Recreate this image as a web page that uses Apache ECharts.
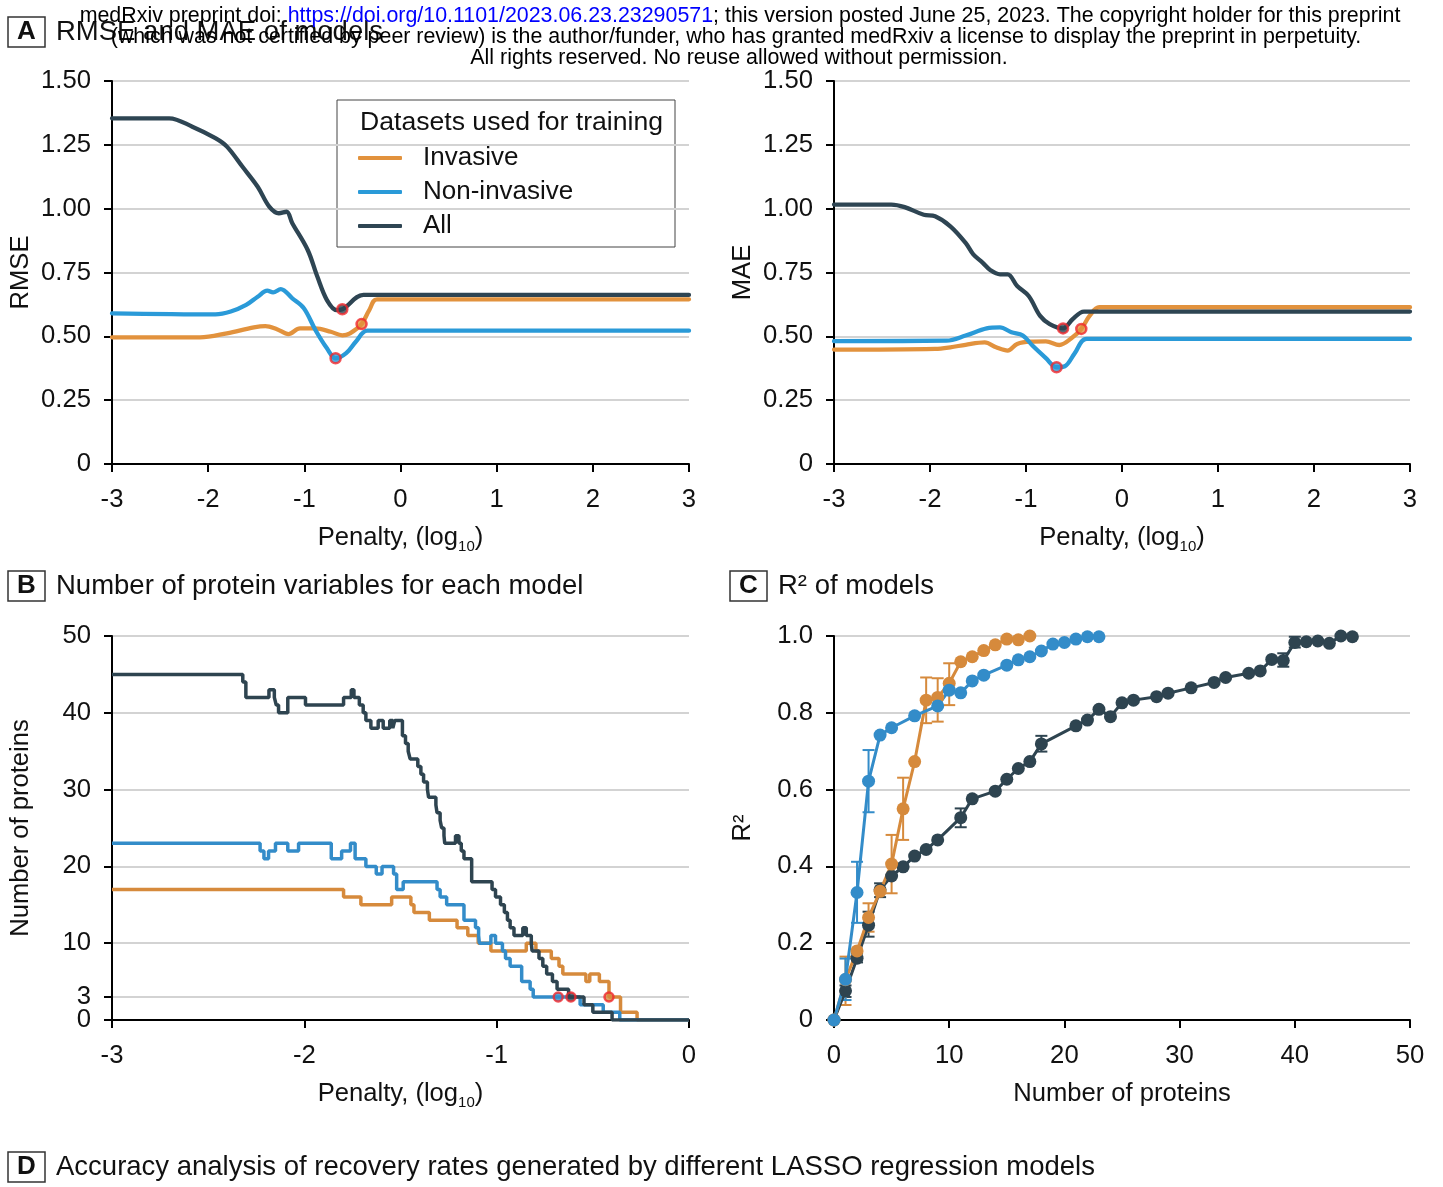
<!DOCTYPE html>
<html>
<head>
<meta charset="utf-8">
<script src="https://cdn.jsdelivr.net/npm/echarts@6/dist/echarts.min.js"></script>
<style>
html, body { margin: 0; padding: 0; background: #fff; }
#main { width: 1443px; height: 1187px; }
</style>
</head>
<body>
<div id="main"></div>
<script>
// ---- data ----
// A: RMSE vs penalty (log10)
var rmseInvasive = [[-3,0.496],[-2.085,0.496],[-1.805,0.512],[-1.525,0.535],[-1.405,0.54],[-1.285,0.528],[-1.165,0.509],[-1.045,0.531],[-0.885,0.531],[-0.725,0.518],[-0.605,0.504],[-0.525,0.512],[-0.405,0.548],[-0.325,0.603],[-0.245,0.645],[3,0.645]];
var rmseNonInvasive = [[-3,0.59],[-1.925,0.586],[-1.765,0.597],[-1.605,0.623],[-1.485,0.655],[-1.385,0.679],[-1.325,0.672],[-1.245,0.685],[-1.125,0.649],[-1.005,0.61],[-0.885,0.525],[-0.765,0.453],[-0.675,0.414],[-0.565,0.434],[-0.465,0.479],[-0.345,0.522],[3,0.522]];
var rmseAll = [[-3,1.354],[-2.405,1.354],[-2.165,1.321],[-1.925,1.276],[-1.805,1.243],[-1.645,1.165],[-1.485,1.086],[-1.365,1.008],[-1.265,0.982],[-1.185,0.988],[-1.125,0.943],[-0.965,0.838],[-0.865,0.734],[-0.765,0.642],[-0.665,0.603],[-0.605,0.606],[-0.385,0.662],[3,0.662]];
var rmseBest = [[-0.405,0.548],[-0.675,0.414],[-0.605,0.606]];

// A: MAE vs penalty (log10)
var maeInvasive = [[-3,0.448],[-1.947,0.451],[-1.788,0.457],[-1.629,0.467],[-1.43,0.476],[-1.311,0.457],[-1.191,0.444],[-1.092,0.47],[-0.953,0.479],[-0.793,0.48],[-0.654,0.466],[-0.515,0.496],[-0.424,0.529],[-0.336,0.581],[-0.237,0.614],[3,0.614]];
var maeNonInvasive = [[-3,0.481],[-1.828,0.483],[-1.629,0.503],[-1.41,0.531],[-1.271,0.535],[-1.152,0.516],[-1.032,0.503],[-0.933,0.464],[-0.793,0.415],[-0.682,0.379],[-0.595,0.383],[-0.495,0.432],[-0.368,0.49],[3,0.49]];
var maeAll = [[-3,1.016],[-2.403,1.016],[-2.264,1.006],[-2.065,0.976],[-1.947,0.97],[-1.788,0.931],[-1.629,0.866],[-1.549,0.821],[-1.45,0.788],[-1.37,0.759],[-1.271,0.743],[-1.191,0.743],[-1.092,0.697],[-0.972,0.658],[-0.853,0.58],[-0.753,0.548],[-0.614,0.531],[-0.515,0.567],[-0.396,0.597],[3,0.597]];
var maeBest = [[-0.424,0.529],[-0.682,0.379],[-0.614,0.531]];

// B: number of proteins vs penalty (value starts at x)
var nInvasive = [[-3,17],[-1.796,16],[-1.706,15],[-1.546,16],[-1.446,15],[-1.43,14],[-1.35,13],[-1.206,12],[-1.15,11],[-1.096,10],[-1.03,9],[-0.846,10],[-0.796,9],[-0.716,8],[-0.676,7],[-0.656,6],[-0.536,5],[-0.516,6],[-0.466,5],[-0.416,3],[-0.356,1],[-0.27,0],[0,0]];
var nNonInvasive = [[-3,23],[-2.23,22],[-2.21,21],[-2.186,22],[-2.15,23],[-2.086,22],[-2.03,23],[-1.86,21],[-1.806,22],[-1.76,23],[-1.736,21],[-1.68,20],[-1.626,19],[-1.596,20],[-1.536,19],[-1.52,17],[-1.486,18],[-1.31,17],[-1.294,16],[-1.26,15],[-1.17,13],[-1.11,12],[-1.094,11],[-1.09,10],[-1.03,11],[-1.006,10],[-0.97,9],[-0.954,8],[-0.93,7],[-0.87,5],[-0.826,4],[-0.81,3],[-0.566,2],[-0.446,1],[-0.36,0],[0,0]];
var nAll = [[-3,45],[-2.32,44],[-2.304,42],[-2.184,43],[-2.156,42],[-2.146,41],[-2.134,40],[-2.086,42],[-1.994,41],[-1.796,42],[-1.756,43],[-1.742,42],[-1.714,41],[-1.694,40],[-1.68,39],[-1.654,38],[-1.616,39],[-1.59,38],[-1.556,39],[-1.54,38],[-1.53,39],[-1.49,37],[-1.474,36],[-1.46,35],[-1.45,34],[-1.41,33],[-1.394,32],[-1.38,31],[-1.36,30],[-1.354,29],[-1.316,28],[-1.31,27],[-1.294,26],[-1.286,25],[-1.274,24],[-1.27,23],[-1.214,24],[-1.196,23],[-1.184,22],[-1.17,21],[-1.13,18],[-1.024,17],[-1.006,16],[-0.98,15],[-0.96,14],[-0.944,13],[-0.93,12],[-0.91,11],[-0.864,12],[-0.846,11],[-0.82,10],[-0.816,9],[-0.78,8],[-0.76,7],[-0.74,6],[-0.71,5],[-0.686,4],[-0.626,3],[-0.546,2],[-0.5,1],[-0.4,0],[0,0]];
var nBest = [[-0.416,3],[-0.68,3],[-0.614,3]];
var nTicks = [0, 10, 20, 30, 40, 50];
var nBestTick = [3];

// C: R2 vs number of proteins
var r2Invasive = [[0,0],[1,0.105],[2,0.18],[3,0.267],[4,0.335],[5,0.406],[6,0.55],[7,0.673],[8,0.833],[9,0.84],[10,0.877],[11,0.933],[12,0.946],[13,0.962],[14,0.977],[15,0.992],[16,0.99],[17,1.0]];
var r2NonInvasive = [[0,0],[1,0.106],[2,0.332],[3,0.622],[4,0.742],[5,0.761],[7,0.792],[9,0.818],[10,0.859],[11,0.852],[12,0.883],[13,0.898],[15,0.924],[16,0.938],[17,0.946],[18,0.961],[19,0.979],[20,0.983],[21,0.992],[22,0.998],[23,0.998]];
var r2All = [[0,0],[1,0.076],[2,0.161],[3,0.247],[4,0.339],[5,0.375],[6,0.399],[7,0.427],[8,0.444],[9,0.469],[11,0.527],[12,0.576],[14,0.596],[15,0.627],[16,0.655],[17,0.673],[18,0.719],[21,0.766],[22,0.781],[23,0.809],[24,0.79],[25,0.826],[26,0.833],[28,0.842],[29,0.851],[31,0.865],[33,0.879],[34,0.892],[36,0.903],[37,0.909],[38,0.939],[39,0.936],[40,0.983],[41,0.985],[42,0.987],[43,0.981],[44,1.0],[45,0.998]];
// error bars: [x, low, high]
var r2InvasiveErr = [[1,0.039,0.165],[3,0.23,0.304],[5,0.33,0.482],[6,0.469,0.631],[8,0.773,0.892],[9,0.777,0.89],[10,0.82,0.929]];
var r2NonInvasiveErr = [[1,0.052,0.16],[2,0.253,0.412],[3,0.541,0.703]];
var r2AllErr = [[1,0.06,0.09],[2,0.15,0.173],[3,0.217,0.282],[4,0.32,0.356],[11,0.502,0.551],[18,0.699,0.74],[39,0.92,0.955],[40,0.97,0.998]];

var FONT = '"Liberation Sans", Arial, Helvetica, sans-serif';
var colA = { inv: '#E2923D', non: '#2A9AD8', all: '#2E4553' };
var colB = { inv: '#D68A3C', non: '#338CC9', all: '#2E4450' };
var TICK_FS = 25.7;

var chart = echarts.init(document.getElementById('main'));

function penaltyName() {
    return '{a|Penalty, (log}{b|10}{a|)}';
}
var nameStyle = {
    fontFamily: FONT, color: '#111', fontSize: 25.6,
    rich: {
        a: { fontFamily: FONT, fontSize: 25.6, color: '#111', lineHeight: 30 },
        b: { fontFamily: FONT, fontSize: 15, color: '#111', lineHeight: 15, padding: [17, 0, 0, 0] }
    }
};

function xAx(gi, min, max, step, name, gap) {
    return {
        type: 'value', gridIndex: gi, min: min, max: max, interval: step,
        axisLine: { show: true, onZero: false, lineStyle: { color: '#000', width: 2 } },
        axisTick: { show: true, length: 8, lineStyle: { color: '#000', width: 2 } },
        axisLabel: { fontSize: TICK_FS, color: '#111', fontFamily: FONT, margin: 23 },
        splitLine: { show: false },
        name: name, nameLocation: 'middle', nameGap: gap, nameTextStyle: nameStyle
    };
}
function yAx(gi, min, max, step, fmt, name) {
    return {
        type: 'value', gridIndex: gi, min: min, max: max, interval: step, position: 'left',
        axisLine: { show: true, onZero: false, lineStyle: { color: '#000', width: 2 } },
        axisTick: { show: true, length: 8, lineStyle: { color: '#000', width: 2 } },
        axisLabel: { fontSize: TICK_FS, color: '#111', fontFamily: FONT, margin: 21, formatter: fmt,
            showMinLabel: true, showMaxLabel: true, hideOverlap: false },
        splitLine: { show: true, lineStyle: { color: '#d3d3d3', width: 2 } },
        name: name, nameLocation: 'middle', nameGap: 78, nameRotate: 90,
        nameTextStyle: { fontFamily: FONT, fontSize: 25.6, color: '#111' }
    };
}
function fmt2(v) { return v === 0 ? '0' : v.toFixed(2); }
function fmt1(v) { return v === 0 ? '0' : v.toFixed(1); }

function lineS(name, data, color, gi, opts) {
    var s = {
        type: 'line', name: name, data: data, xAxisIndex: gi, yAxisIndex: gi,
        showSymbol: false, symbol: 'none', color: color,
        lineStyle: { color: color, width: 4.3, cap: 'round', join: 'round' },
        animation: false
    };
    for (var k in opts) s[k] = opts[k];
    return s;
}
function bestS(data, colors, gi, size) {
    return {
        type: 'scatter', xAxisIndex: gi, yAxisIndex: gi, z: 5, symbolSize: size,
        data: data.map(function (d, i) {
            return { value: d, itemStyle: { color: colors[i], borderColor: '#F0282D', borderWidth: 2.5 } };
        }),
        animation: false
    };
}
function errS(data, color, gi) {
    return {
        type: 'custom', xAxisIndex: gi, yAxisIndex: gi, data: data, z: 1,
        encode: { x: 0, y: [1, 2] },
        renderItem: function (params, api) {
            var lo = api.coord([api.value(0), api.value(1)]);
            var hi = api.coord([api.value(0), api.value(2)]);
            var w = 6;
            var st = { stroke: color, lineWidth: 2 };
            return { type: 'group', children: [
                { type: 'line', shape: { x1: lo[0], y1: lo[1], x2: hi[0], y2: hi[1] }, style: st },
                { type: 'line', shape: { x1: lo[0] - w, y1: lo[1], x2: lo[0] + w, y2: lo[1] }, style: st },
                { type: 'line', shape: { x1: hi[0] - w, y1: hi[1], x2: hi[0] + w, y2: hi[1] }, style: st }
            ] };
        },
        animation: false
    };
}

function panelLabel(x, y, letter, title) {
    return { type: 'group', children: [
        { type: 'rect', shape: { x: x, y: y, width: 37, height: 30 }, style: { fill: '#fff', stroke: '#333', lineWidth: 1.5 } },
        { type: 'text', x: x + 18.5, y: y + 15, style: { text: letter, font: 'bold 26px ' + FONT, fill: '#111', align: 'center', verticalAlign: 'middle' } },
        { type: 'text', x: x + 48, y: y + 15, style: { text: title, font: '27.5px ' + FONT, fill: '#111', align: 'left', verticalAlign: 'middle' } }
    ] };
}

var headerStyle = { font: '21.4px ' + FONT, fill: '#000', align: 'center', verticalAlign: 'middle' };

// panel B: main left axis plus an overlaid axis carrying only the "3" tick
var yB = yAx(2, 0, 50, 10, null, 'Number of proteins');
yB.axisLabel.customValues = nTicks;
yB.axisTick.customValues = nTicks;
var yB3 = yAx(2, 0, 50, 10, null, '');
yB3.axisLine = { show: false, onZero: false };
yB3.splitLine = { show: false };
yB3.axisLabel.customValues = nBestTick;
yB3.axisTick.customValues = nBestTick;
yB3.offset = 0;

var option = {
    backgroundColor: '#fff',
    animation: false,
    textStyle: { fontFamily: FONT },
    grid: [
        { left: 112, top: 81, width: 577, height: 383 },
        { left: 834, top: 81, width: 576, height: 383 },
        { left: 112, top: 636, width: 577, height: 384 },
        { left: 834, top: 636, width: 576, height: 384 }
    ],
    xAxis: [
        xAx(0, -3, 3, 1, penaltyName(), 59),
        xAx(1, -3, 3, 1, penaltyName(), 59),
        xAx(2, -3, 0, 1, penaltyName(), 59),
        (function () {
            var a = xAx(3, 0, 50, 10, 'Number of proteins', 61);
            a.nameTextStyle = { fontFamily: FONT, fontSize: 25.6, color: '#111' };
            return a;
        })()
    ],
    yAxis: [
        yAx(0, 0, 1.5, 0.25, fmt2, 'RMSE'),
        yAx(1, 0, 1.5, 0.25, fmt2, 'MAE'),
        yB,
        yAx(3, 0, 1, 0.2, fmt1, 'R²'),
        yB3
    ],
    legend: {
        data: ['Invasive', 'Non-invasive', 'All'],
        left: 358, top: 145, orient: 'vertical', icon: 'roundRect',
        itemWidth: 44, itemHeight: 4, itemGap: 8, padding: 0, selectedMode: false,
        textStyle: { fontSize: 26, color: '#111', fontFamily: FONT, padding: [0, 0, 0, 16] }
    },
    graphic: [
        { type: 'text', x: 740, y: 16, style: {
            text: '{n|medRxiv preprint doi: }{l|https://doi.org/10.1101/2023.06.23.23290571}{n|; this version posted June 25, 2023. The copyright holder for this preprint}',
            align: 'center', verticalAlign: 'middle',
            rich: { n: { font: '21.4px ' + FONT, fill: '#000' }, l: { font: '21.4px ' + FONT, fill: '#0000FF' } }
        }, z: 10 },
        { type: 'text', x: 736, y: 37, style: Object.assign({ text: '(which was not certified by peer review) is the author/funder, who has granted medRxiv a license to display the preprint in perpetuity.' }, headerStyle), z: 10 },
        { type: 'text', x: 739, y: 58, style: Object.assign({ text: 'All rights reserved. No reuse allowed without permission.' }, headerStyle), z: 10 },
        panelLabel(8, 17, 'A', 'RMSE and MAE of models'),
        panelLabel(8, 571, 'B', 'Number of protein variables for each model'),
        panelLabel(730, 571, 'C', 'R² of models'),
        panelLabel(8, 1152, 'D', 'Accuracy analysis of recovery rates generated by different LASSO regression models'),
        { type: 'rect', shape: { x: 337, y: 100, width: 338, height: 147 }, style: { fill: '#fff', stroke: '#444', lineWidth: 1 }, z: 0 },
        { type: 'text', x: 360, y: 123, style: { text: 'Datasets used for training', font: '26.6px ' + FONT, fill: '#111', verticalAlign: 'middle' } }
    ],
    series: [
        // A: RMSE
        lineS('Invasive', rmseInvasive, colA.inv, 0, { smooth: 0.35 }),
        lineS('Non-invasive', rmseNonInvasive, colA.non, 0, { smooth: 0.35 }),
        lineS('All', rmseAll, colA.all, 0, { smooth: 0.35 }),
        bestS(rmseBest, [colA.inv, colA.non, colA.all], 0, 10),
        // A: MAE
        lineS('Invasive', maeInvasive, colA.inv, 1, { smooth: 0.35 }),
        lineS('Non-invasive', maeNonInvasive, colA.non, 1, { smooth: 0.35 }),
        lineS('All', maeAll, colA.all, 1, { smooth: 0.35 }),
        bestS(maeBest, [colA.inv, colA.non, colA.all], 1, 10),
        // B: step lines
        lineS('Invasive', nInvasive, colB.inv, 2, { step: 'end', lineStyle: { color: colB.inv, width: 3.5 } }),
        lineS('Non-invasive', nNonInvasive, colB.non, 2, { step: 'end', lineStyle: { color: colB.non, width: 3.5 } }),
        lineS('All', nAll, colB.all, 2, {
            step: 'end', lineStyle: { color: colB.all, width: 3.5 },
            markLine: { silent: true, symbol: 'none', label: { show: false }, z: 0,
                lineStyle: { color: '#d3d3d3', width: 2, type: 'solid' }, data: [{ yAxis: 3 }] }
        }),
        bestS(nBest, [colB.inv, colB.non, colB.all], 2, 9),
        // C: R2
        errS(r2AllErr, colB.all, 3),
        lineS('All', r2All, colB.all, 3, { showSymbol: true, symbol: 'circle', symbolSize: 13, lineStyle: { color: colB.all, width: 3 }, itemStyle: { color: colB.all } }),
        errS(r2InvasiveErr, colB.inv, 3),
        lineS('Invasive', r2Invasive, colB.inv, 3, { showSymbol: true, symbol: 'circle', symbolSize: 13, lineStyle: { color: colB.inv, width: 3 }, itemStyle: { color: colB.inv } }),
        errS(r2NonInvasiveErr, colB.non, 3),
        lineS('Non-invasive', r2NonInvasive, colB.non, 3, { showSymbol: true, symbol: 'circle', symbolSize: 13, lineStyle: { color: colB.non, width: 3 }, itemStyle: { color: colB.non } })
    ]
};

chart.setOption(option);
</script>
</body>
</html>
